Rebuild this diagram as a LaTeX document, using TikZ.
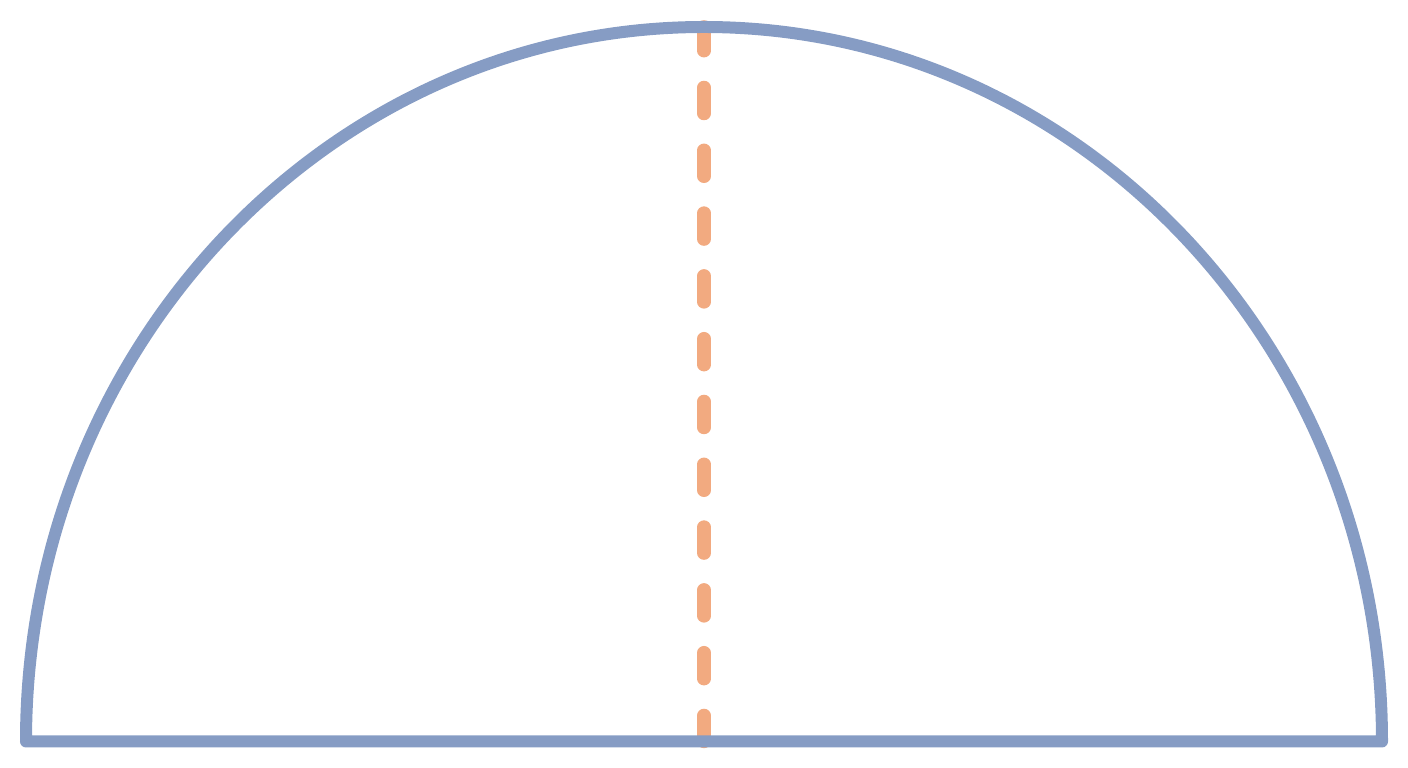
\documentclass[tikz,border=0pt]{standalone}
\usepackage{xcolor}
\usepackage{tikz}
\usetikzlibrary{calc}

\definecolor{domeblue}{RGB}{134,156,196}
\definecolor{axisorange}{RGB}{242,170,128}

\begin{document}
\begin{tikzpicture}[outline/.style={draw=domeblue, line width=0.12cm, line join=round},
	midline/.style={draw=axisorange, line width=0.135cm, line cap=round, dash pattern=on 0.26cm off 0.368cm}]
	\useasboundingbox (0,0) rectangle (14.08,7.68);
	\coordinate(base) at (7.04,0.265);
	\coordinate(top) at (7.04,7.41);
	\coordinate(left) at (0.26,0.265);
	\coordinate(right) at (13.82,0.265);
	\draw[midline] (base) -- (top);
	\draw[outline] (left) -- (right) arc[start angle=0, end angle=180, x radius=6.78, y radius=7.145] -- cycle;
\end{tikzpicture}
\end{document}
